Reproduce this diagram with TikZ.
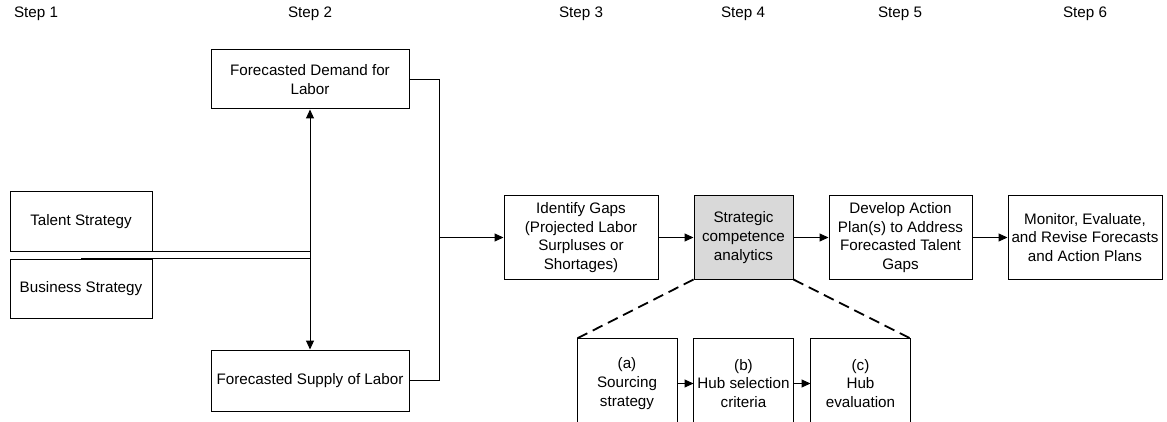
\documentclass[tikz,border=0pt]{standalone}
\usepackage{fontspec}
\setmainfont{Liberation Sans}
\usetikzlibrary{arrows.meta, positioning}

\begin{document}
\begin{tikzpicture}[x=1pt,y=-1pt,line width=1pt,>={Triangle[length=9pt,width=8pt]},
    font=\fontsize{15.2}{18.8}\selectfont]
    \tikzstyle{box}=[draw=black, rectangle, align=center, inner sep=2pt]
    \tikzstyle{stage}=[box, minimum height=83pt]
    \tikzstyle{input}=[box, minimum width=142pt, minimum height=59pt]
    \tikzstyle{forecast}=[box, minimum width=198pt]
    \tikzstyle{sub}=[rectangle, align=center, minimum width=99pt, minimum height=89pt]
    \tikzstyle{zoomline}=[dashed, line width=1.8pt, dash pattern=on 11pt off 6pt]

    \useasboundingbox (0,0) rectangle (1167,422);
    \coordinate (bottom) at (0,422);

    % step headings
    \foreach \n/\x in {1/36,2/310,3/581,4/743,5/900,6/1085}{
        \node (step-\n) at (\x,14) {Step \n};
    }

    % strategies
    \node[input] (talent) at (81,221.5) {Talent Strategy};
    \node[input] (business) at (81,288.5) {Business Strategy};

    % forecasts
    \node[forecast, minimum height=59pt] (demand) at (310,79.5) {Forecasted Demand for\\Labor};
    \node[forecast, minimum height=61pt] (supply) at (310,380.5) {Forecasted Supply of Labor};

    % main stages
    \node[stage, minimum width=154pt] (gaps) at (581,237.5) {Identify Gaps\\(Projected Labor\\Surpluses or\\Shortages)};
    \node[stage, minimum width=99pt, fill=black!15] (sca) at (743.5,237.5) {Strategic\\competence\\analytics};
    \node[stage, minimum width=143pt] (plan) at (900.5,237.5) {Develop Action\\Plan(s) to Address\\Forecasted Talent\\Gaps};
    \node[stage, minimum width=154pt] (monitor) at (1085,237.5) {Monitor, Evaluate,\\and Revise Forecasts\\and Action Plans};

    % breakdown of step 4, boxes run off the bottom edge
    \node[sub] (sub-a) at (627,383.5) {(a)\\Sourcing\\strategy};
    \node[sub] (sub-b) at (743.5,383.5) {(b)\\Hub selection\\criteria};
    \node[sub] (sub-c) at (860.5,383.5) {(c)\\Hub\\evaluation};
    \foreach \s in {a,b,c}{
        \draw (sub-\s.north west |- bottom) -- (sub-\s.north west) -- (sub-\s.north east) -- (sub-\s.north east |- bottom);
    }

    % strategies feed the forecasts
    \draw (talent.south) -- (talent.south -| demand.south);
    \draw (business.north) -- (business.north -| demand.south);
    \draw[<->] (demand.south) -- (supply.north);

    % forecasts merge into the gap analysis
    \coordinate (join) at (439,237.5);
    \draw (demand.east) -| (join |- supply.east) -- (supply.east);
    \draw[->] (join) -- (gaps.west);

    \path[->] (gaps) edge (sca);
    \path[->] (sca) edge (plan);
    \path[->] (plan) edge (monitor);

    \draw[zoomline] (sca.south west) -- (sub-a.north west);
    \draw[zoomline] (sca.south east) -- (sub-c.north east);
    \path[->] (sub-a) edge (sub-b);
    \path[->] (sub-b) edge (sub-c);
\end{tikzpicture}
\end{document}
